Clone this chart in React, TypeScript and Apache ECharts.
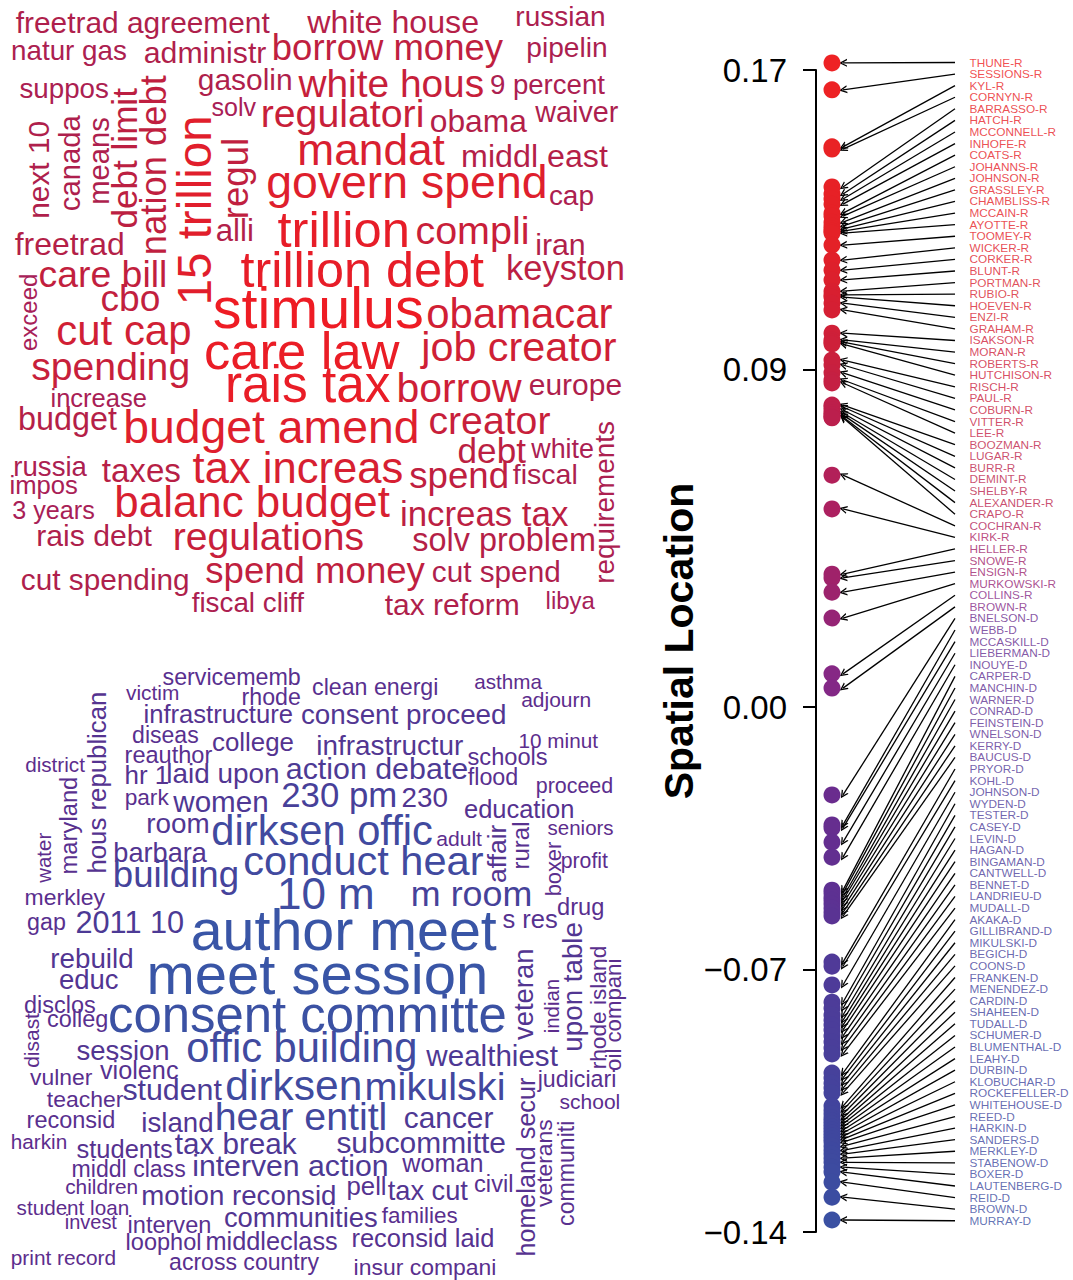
import React, { useEffect, useRef } from "react";
import * as echarts from "echarts";

const FONT = '"Liberation Sans", Arial, Helvetica, sans-serif';

// ---------- Senators (ordered as listed) and their spatial locations ----------
const senators: string[] = [
  "THUNE-R", "SESSIONS-R", "KYL-R", "CORNYN-R", "BARRASSO-R", "HATCH-R", "MCCONNELL-R", "INHOFE-R",
  "COATS-R", "JOHANNS-R", "JOHNSON-R", "GRASSLEY-R", "CHAMBLISS-R", "MCCAIN-R", "AYOTTE-R", "TOOMEY-R",
  "WICKER-R", "CORKER-R", "BLUNT-R", "PORTMAN-R", "RUBIO-R", "HOEVEN-R", "ENZI-R", "GRAHAM-R",
  "ISAKSON-R", "MORAN-R", "ROBERTS-R", "HUTCHISON-R", "RISCH-R", "PAUL-R", "COBURN-R", "VITTER-R",
  "LEE-R", "BOOZMAN-R", "LUGAR-R", "BURR-R", "DEMINT-R", "SHELBY-R", "ALEXANDER-R", "CRAPO-R",
  "COCHRAN-R", "KIRK-R", "HELLER-R", "SNOWE-R", "ENSIGN-R", "MURKOWSKI-R", "COLLINS-R", "BROWN-R",
  "BNELSON-D", "WEBB-D", "MCCASKILL-D", "LIEBERMAN-D", "INOUYE-D", "CARPER-D", "MANCHIN-D", "WARNER-D",
  "CONRAD-D", "FEINSTEIN-D", "WNELSON-D", "KERRY-D", "BAUCUS-D", "PRYOR-D", "KOHL-D", "JOHNSON-D",
  "WYDEN-D", "TESTER-D", "CASEY-D", "LEVIN-D", "HAGAN-D", "BINGAMAN-D", "CANTWELL-D", "BENNET-D",
  "LANDRIEU-D", "MUDALL-D", "AKAKA-D", "GILLIBRAND-D", "MIKULSKI-D", "BEGICH-D", "COONS-D", "FRANKEN-D",
  "MENENDEZ-D", "CARDIN-D", "SHAHEEN-D", "TUDALL-D", "SCHUMER-D", "BLUMENTHAL-D", "LEAHY-D", "DURBIN-D",
  "KLOBUCHAR-D", "ROCKEFELLER-D", "WHITEHOUSE-D", "REED-D", "HARKIN-D", "SANDERS-D", "MERKLEY-D",
  "STABENOW-D", "BOXER-D", "LAUTENBERG-D", "REID-D", "BROWN-D", "MURRAY-D",
];

const locations: number[] = [
  0.1719, 0.1647, 0.1495, 0.1489, 0.1388, 0.1369, 0.1356, 0.1342, 0.1318, 0.131, 0.1294, 0.1284,
  0.1276, 0.127, 0.1265, 0.1233, 0.1193, 0.1166, 0.114, 0.111, 0.11, 0.1094, 0.1078, 0.106,
  0.0998, 0.098, 0.0974, 0.0969, 0.0926, 0.0913, 0.0892, 0.0873, 0.0865, 0.0806, 0.0801, 0.0793,
  0.0785, 0.078, 0.0774, 0.0772, 0.0619, 0.0529, 0.0355, 0.0345, 0.0307, 0.0238, 0.0089, 0.0051,
  -0.0234, -0.0314, -0.0322, -0.036, -0.04, -0.0488, -0.0496, -0.0507, -0.0515, -0.0525, -0.0536,
  -0.0547, -0.0557, -0.068, -0.0691, -0.0741, -0.0787, -0.0803, -0.0821, -0.0835, -0.0848, -0.0861,
  -0.0877, -0.0893, -0.0909, -0.0925, -0.0976, -0.0989, -0.1003, -0.1016, -0.1029, -0.1064, -0.1075,
  -0.1085, -0.1096, -0.1104, -0.1112, -0.112, -0.1128, -0.1136, -0.1144, -0.1152, -0.116, -0.1171,
  -0.1182, -0.1192, -0.1203, -0.1214, -0.1227, -0.124, -0.1267, -0.1307, -0.1368,
];

const tickValues: number[] = [0.17, 0.09, 0.0, -0.07, -0.14];
const axisMin = -0.14;
const axisMax = 0.17;
// senator labels are spread evenly between these two locations
const labelTop = 0.172;
const labelBottom = -0.137;

// ---------- Word clouds: [word, start, end, baseline, vertical] ----------
type Word = [string, number, number, number, number?];

const republicanWords: Word[] = [
  ["freetrad agreement", 16, 270, 32.7], ["natur gas", 12.7, 126, 60], ["administr", 145, 266, 63.3],
  ["borrow money", 274, 503, 60], ["white house", 307, 478, 33.3], ["russian", 517, 604, 26],
  ["pipelin", 528, 606, 57.3], ["suppos", 20, 108, 98.3], ["gasolin", 199, 291, 90],
  ["white hous", 298, 483, 96.7], ["9 percent", 491, 605, 94], ["solv", 212, 256, 116],
  ["regulatori", 263, 422, 127], ["obama", 431, 527, 131.7], ["waiver", 535, 618, 121.7],
  ["mandat", 300, 445, 165], ["middl east", 463, 608, 166.7], ["govern spend", 268, 545, 198.3],
  ["cap", 550, 593, 205], ["alli", 217, 252, 241.7], ["trillion", 278, 407, 246.7],
  ["compli", 417, 527, 243.3], ["iran", 537, 584, 255], ["freetrad", 15, 123, 255],
  ["care bill", 40, 165, 286.7], ["trillion debt", 241, 484, 286.7], ["keyston", 508, 623, 280],
  ["cbo", 102, 159, 311], ["stimulus", 214, 422, 328], ["obamacar", 428, 612, 328.3],
  ["cut cap", 58, 190, 345], ["care law", 206, 400, 368.3], ["job creator", 420, 616, 361.7],
  ["spending", 32, 188, 380], ["rais tax", 228, 390, 402], ["borrow", 399, 522, 401.7],
  ["europe", 530, 621, 395], ["increase", 52, 146, 406.7], ["budget", 20, 117, 430],
  ["budget amend", 126, 417, 443.3], ["creator", 430, 550, 433.3], ["debt", 459, 526, 462.7],
  ["white", 531, 593, 458.3], ["russia", 15, 87, 476], ["taxes", 102, 180, 481.7],
  ["tax increas", 193, 402, 482.7], ["fiscal", 513, 576, 484], ["impos", 11, 77, 494.3],
  ["spend", 410, 507, 488.3], ["3 years", 13, 94, 518.3], ["balanc budget", 117, 390, 516.7],
  ["increas tax", 402, 568, 526], ["rais debt", 38, 152, 546], ["regulations", 175, 363, 550],
  ["solv problem", 413, 594, 551.7], ["cut spending", 22, 188, 590], ["spend money", 206, 425, 583.3],
  ["cut spend", 433, 559, 581.7], ["fiscal cliff", 192, 304, 611.7], ["tax reform", 385, 518, 615],
  ["libya", 547, 595, 609.3],
  ["15 trillion", 118, 302, 211, 1], ["nation debt", 75, 253, 166, 1], ["debt limit", 88, 227, 137, 1],
  ["means", 118, 203, 109, 1], ["canada", 115, 210, 80, 1], ["next 10", 122, 217, 49, 1],
  ["regul", 140, 217, 248, 1], ["exceed", 275, 350, 37, 1], ["requirements", 422, 582, 614, 1],
];

const democratWords: Word[] = [
  ["servicememb", 163, 300, 685], ["victim", 126, 178, 700], ["rhode", 243, 300, 705],
  ["clean energi", 313, 437, 695], ["asthma", 475, 542, 688.3], ["adjourn", 522, 590, 706.7],
  ["infrastructure", 145, 292, 723.3], ["consent proceed", 302, 505, 724], ["diseas", 133, 198, 743.3],
  ["college", 213, 293, 750.7], ["10 minut", 520, 598, 747.3], ["reauthor", 126, 212, 763.3],
  ["infrastructur", 318, 463, 755], ["district", 26, 85, 771.7], ["schools", 468, 547, 765],
  ["hr 1", 126, 168, 784], ["laid upon", 168, 278, 783.3], ["action debate", 287, 467, 779.3],
  ["flood", 468, 517, 785], ["proceed", 537, 612, 793.3], ["park", 126, 169, 805],
  ["women", 173, 267, 811.7], ["230 pm", 283, 395, 806.7], ["230", 403, 447, 806.7],
  ["education", 465, 573, 818.3], ["room", 148, 208, 833.3], ["dirksen offic", 213, 432, 845],
  ["adult", 437, 482, 845.7], ["seniors", 548, 613, 835], ["barbara", 115, 207, 861.7],
  ["conduct hear", 245, 483, 875], ["profit", 562, 608, 868.3], ["building", 115, 237, 886.7],
  ["merkley", 26, 105, 905], ["10 m", 280, 372, 908.3], ["m room", 413, 530, 906.7],
  ["drug", 558, 603, 915], ["gap", 28, 65, 930], ["2011 10", 77, 183, 933.3],
  ["s res", 503, 557, 928.3], ["author meet", 193, 497, 950], ["rebuild", 52, 132, 968.3],
  ["educ", 60, 118, 989.3], ["meet session", 150, 485, 993.3], ["disclos", 25, 95, 1013.3],
  ["colleg", 48, 107, 1027.3], ["consent committe", 110, 505, 1031.7], ["session", 77, 168, 1060],
  ["offic building", 188, 415, 1061.7], ["wealthiest", 426, 558, 1066], ["violenc", 100, 178, 1078.3],
  ["vulner", 30, 92, 1085], ["judiciari", 537, 615, 1086.7], ["student", 123, 222, 1100],
  ["dirksen", 227, 360, 1100], ["mikulski", 367, 503, 1100], ["teacher", 47, 123, 1106.7],
  ["school", 560, 619, 1108.3], ["reconsid", 28, 114, 1128.3], ["island", 143, 212, 1131.7],
  ["hear entitl", 217, 385, 1130], ["cancer", 405, 493, 1128.3], ["harkin", 12, 66, 1148.3],
  ["tax break", 175, 297, 1153.3], ["students", 77, 172, 1158.3], ["subcommitte", 337, 505, 1153.3],
  ["woman", 402, 482, 1171.7], ["middl class", 73, 185, 1176.7], ["interven action", 194, 387, 1176],
  ["civil", 475, 512, 1191.7], ["children", 66, 137, 1193.3], ["pell", 348, 385, 1195],
  ["tax cut", 388, 468, 1200], ["motion reconsid", 143, 335, 1205], ["student loan", 17, 128, 1215],
  ["families", 382, 457, 1223.3], ["communities", 225, 377, 1226.7], ["invest", 66, 117, 1229.3],
  ["interven", 129, 210, 1232.7], ["reconsid laid", 353, 493, 1246.7], ["loophol", 127, 200, 1250],
  ["middleclass", 207, 337, 1250], ["print record", 12, 115, 1265], ["across country", 170, 319, 1270],
  ["insur compani", 355, 495, 1275],
  ["maryland", 778, 873, 77, 1], ["hous republican", 693, 872, 106, 1], ["water", 833, 883, 51, 1],
  ["affair", 825, 882, 506, 1], ["rural", 823, 868, 529, 1], ["boxer", 842, 895, 561, 1],
  ["veteran", 950, 1040, 533, 1], ["indian", 980, 1032, 559, 1], ["upon table", 923, 1050, 582, 1],
  ["rhode island", 947, 1068, 606, 1], ["oil compani", 960, 1070, 621, 1], ["disast", 1013, 1067, 39, 1],
  ["homeland secur", 1078, 1255, 535, 1], ["veterans", 1120, 1207, 552, 1], ["communiti", 1122, 1225, 574, 1],
];

// ---------- colour scales ----------
const locationStops: [number, string][] = [
  [-0.137, "#3A50A2"], [-0.115, "#3F479E"], [-0.09, "#4A3E9A"], [-0.068, "#503A98"],
  [-0.052, "#5D3192"], [-0.023, "#6A2C8E"], [0.009, "#862885"], [0.033, "#9E226B"],
  [0.053, "#AC2060"], [0.078, "#BC1F4C"], [0.09, "#C8203F"], [0.11, "#D81F30"],
  [0.123, "#E42127"], [0.172, "#EE2224"],
];
const repSizeStops: [number, string][] = [
  [22, "#A4215C"], [30, "#AF1F4C"], [38, "#C41F3D"], [45, "#DC1F2F"], [52, "#EA1D26"], [58, "#EE1C24"],
];
const demSizeStops: [number, string][] = [
  [20, "#5E2C8D"], [26, "#553390"], [32, "#4A3C96"], [40, "#42489E"], [48, "#3C50A2"], [58, "#3955A6"],
];

function hex(h: string): number[] {
  return [1, 3, 5].map((i) => parseInt(h.slice(i, i + 2), 16));
}
function interp(stops: [number, string][], v: number): string {
  if (v <= stops[0][0]) return stops[0][1];
  for (let i = 1; i < stops.length; i++) {
    if (v <= stops[i][0]) {
      const [v0, c0] = stops[i - 1];
      const [v1, c1] = stops[i];
      const t = (v - v0) / (v1 - v0);
      const a = hex(c0), b = hex(c1);
      const c = a.map((x, k) => Math.round(x + (b[k] - x) * t));
      return `rgb(${c[0]},${c[1]},${c[2]})`;
    }
  }
  return stops[stops.length - 1][1];
}

const CHEVRON = "path://M4,0 L8,8 L6.546,8 L4,2.908 L1.454,8 L0,8 Z";

function buildWords(words: Word[], stops: [number, string][]) {
  const canvas = document.createElement("canvas");
  const ctx = canvas.getContext("2d") as CanvasRenderingContext2D;
  ctx.font = `100px ${FONT}`;
  return words.map(([text, a0, a1, base, vertical]) => {
    const m = ctx.measureText(text);
    const left = m.actualBoundingBoxLeft || 0;
    const right = m.actualBoundingBoxRight || m.width;
    const inkPer = (left + right) / 100;
    const size = (a1 - a0) / inkPer;
    const k = size / 100;
    const style: any = {
      text,
      fill: interp(stops, size),
      font: `${size.toFixed(2)}px ${FONT}`,
      textAlign: "left",
      textVerticalAlign: "middle",
      align: "left",
      verticalAlign: "middle",
    };
    if (!vertical) {
      return { type: "text", silent: true, x: a0 + left * k, y: base - 0.3465 * size, style };
    }
    return {
      type: "text",
      silent: true,
      x: base - 0.3465 * size,
      y: a1 - left * k,
      rotation: Math.PI / 2,
      style,
    };
  });
}

function fmt(v: number): string {
  const s = Math.abs(v).toFixed(2);
  return v < -1e-9 ? "\u2212" + s : s;
}

export default function App() {
  const ref = useRef<HTMLDivElement>(null);

  useEffect(() => {
    document.body.style.margin = "0";
    if (!ref.current) return;
    const chart = echarts.init(ref.current, undefined, { renderer: "svg" });

    const n = senators.length;
    const labelValue = (i: number) => labelTop - (i * (labelTop - labelBottom)) / (n - 1);

    const option: any = {
      animation: false,
      backgroundColor: "#ffffff",
      grid: { left: 816, top: 70, width: 257, height: 1162, containLabel: false },
      xAxis: { type: "value", min: 0, max: 257, show: false },
      yAxis: {
        type: "value",
        min: axisMin,
        max: axisMax,
        position: "left",
        name: "Spatial Location",
        nameLocation: "middle",
        nameGap: 92,
        nameRotate: 90,
        nameTextStyle: {
          fontFamily: FONT,
          fontSize: 41,
          fontWeight: "bold",
          color: "#000",
          padding: [0, 0, 0, 20],
        },
        axisLine: { show: true, lineStyle: { color: "#000", width: 2 } },
        axisTick: { show: true, inside: false, length: 13, lineStyle: { color: "#000", width: 2 }, customValues: tickValues },
        axisLabel: {
          show: true,
          margin: 29,
          fontSize: 33,
          fontFamily: FONT,
          color: "#000",
          customValues: tickValues,
          formatter: (v: number) => fmt(v),
        },
        splitLine: { show: false },
      },
      series: [
        {
          type: "lines",
          coordinateSystem: "cartesian2d",
          silent: true,
          clip: false,
          z: 1,
          symbol: ["none", CHEVRON],
          symbolSize: 8,
          lineStyle: { color: "#000", width: 1.3, opacity: 1, curveness: 0 },
          data: senators.map((s, i) => ({ coords: [[139, labelValue(i)], [27, locations[i]]] })),
        },
        {
          type: "scatter",
          silent: true,
          clip: false,
          z: 2,
          symbol: "circle",
          symbolSize: 17,
          data: locations.map((v, i) => ({
            name: senators[i],
            value: [16, v],
            itemStyle: { color: interp(locationStops, v), opacity: 1 },
          })),
        },
        {
          type: "scatter",
          silent: true,
          clip: false,
          z: 3,
          symbol: "circle",
          symbolSize: 1,
          itemStyle: { color: "rgba(255,255,255,0)" },
          label: {
            show: true,
            position: "right",
            distance: 3,
            formatter: "{b}",
            fontSize: 11.8,
            fontFamily: FONT,
          },
          labelLayout: { hideOverlap: false },
          data: senators.map((s, i) => ({
            name: s,
            value: [150, labelValue(i)],
            label: { color: interp(locationStops, locations[i]) },
          })),
        },
      ],
      graphic: {
        elements: [
          ...buildWords(republicanWords, repSizeStops),
          ...buildWords(democratWords, demSizeStops),
        ],
      },
    };

    chart.setOption(option);
    return () => chart.dispose();
  }, []);

  return <div ref={ref} style={{ width: "1073px", height: "1280px", background: "#fff" }} />;
}
